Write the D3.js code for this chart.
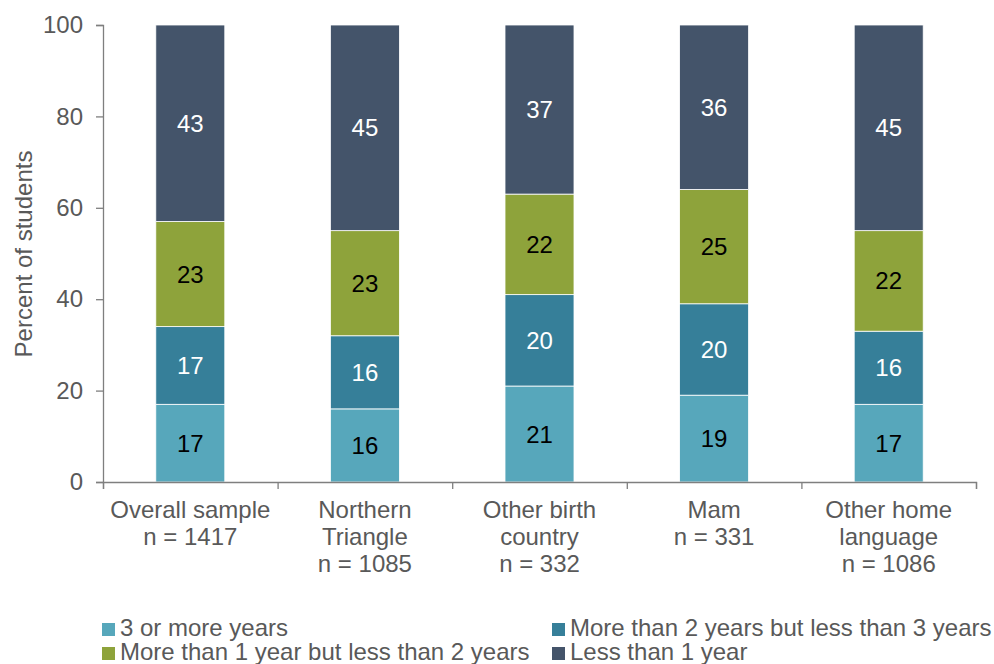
<!DOCTYPE html>
<html><head><meta charset="utf-8">
<script src="https://cdn.jsdelivr.net/npm/d3@7"></script>
<style>body{margin:0;background:#fff}svg{display:block;font-family:"Liberation Sans",Arial,sans-serif}</style>
</head><body><svg id="c" width="994" height="664"></svg>
<script>
const categories = [["Overall sample","n = 1417"],["Northern","Triangle","n = 1085"],["Other birth","country","n = 332"],["Mam","n = 331"],["Other home","language","n = 1086"]];
const seriesNames = ["3 or more years","More than 2 years but less than 3 years","More than 1 year but less than 2 years","Less than 1 year"];
const s3plus = [17,16,21,19,17];
const s2to3 = [17,16,20,20,16];
const s1to2 = [23,23,22,25,22];
const sLess1 = [43,45,37,36,45];
const yTicks = [0,20,40,60,80,100];
const colors = ["#57A7BB","#367F99","#8EA33B","#44546A"];
const labelColors = ["#000","#fff","#000","#fff"];

const svg = d3.select("#c");
const xb = d3.scaleLinear().domain([0,categories.length]).range([103,976]);
const y = d3.scaleLinear().domain([0,100]).range([482,25]);
const series = [s3plus,s2to3,s1to2,sLess1];
const data = categories.map((c,i)=>{const o={i};series.forEach((s,k)=>o["k"+k]=s[i]);return o;});
const stack = d3.stack().keys(series.map((s,k)=>"k"+k))(data);

const bw = 69;
stack.forEach((layer,k)=>{
  const g = svg.append("g");
  g.selectAll("rect").data(layer).join("rect")
    .attr("x",d=>xb(d.data.i+0.5)-bw/2).attr("width",bw)
    .attr("y",d=>y(d[1])).attr("height",d=>y(d[0])-y(d[1]))
    .attr("fill",colors[k]).attr("stroke","#fff").attr("stroke-width",0.8);
  g.selectAll("text").data(layer).join("text")
    .attr("x",d=>xb(d.data.i+0.5)).attr("y",d=>(y(d[0])+y(d[1]))/2+8.5)
    .attr("text-anchor","middle").attr("font-size",24).attr("fill",labelColors[k])
    .text(d=>d[1]-d[0]);
});

// y axis
const ya = svg.append("g").attr("transform","translate(103,0)")
  .call(d3.axisLeft(y).tickValues(yTicks).tickSize(7).tickPadding(13));
ya.select(".domain").attr("stroke","#7f7f7f").attr("stroke-width",1.3);
ya.selectAll(".tick line").attr("stroke","#7f7f7f").attr("stroke-width",1.3);
ya.selectAll("text").attr("font-size",24).attr("fill","#595959").attr("font-family","Liberation Sans, Arial, sans-serif");

// x axis
const xa = svg.append("g").attr("transform","translate(0,482)")
  .call(d3.axisBottom(xb).tickValues(d3.range(categories.length+1)).tickSize(7).tickFormat(""));
xa.select(".domain").attr("stroke","#7f7f7f").attr("stroke-width",1.3);
xa.selectAll(".tick line").attr("stroke","#7f7f7f").attr("stroke-width",1.3);

categories.forEach((lines,i)=>{
  const t = svg.append("text").attr("text-anchor","middle").attr("font-size",24).attr("fill","#595959");
  lines.forEach((l,j)=>t.append("tspan").attr("x",xb(i+0.5)).attr("y",518+j*27).text(l));
});

svg.append("text").attr("transform","translate(32,254) rotate(-90)").attr("text-anchor","middle")
  .attr("font-size",24).attr("fill","#595959").text("Percent of students");

// legend
const legPos = [[102,623],[552,623],[102,647],[552,647]];
seriesNames.forEach((n,k)=>{
  const [lx,ly] = legPos[k];
  svg.append("rect").attr("x",lx).attr("y",ly).attr("width",13).attr("height",13).attr("fill",colors[k]);
  svg.append("text").attr("x",lx+18).attr("y",ly+13).attr("font-size",24).attr("fill","#595959").text(n);
});
</script></body></html>
